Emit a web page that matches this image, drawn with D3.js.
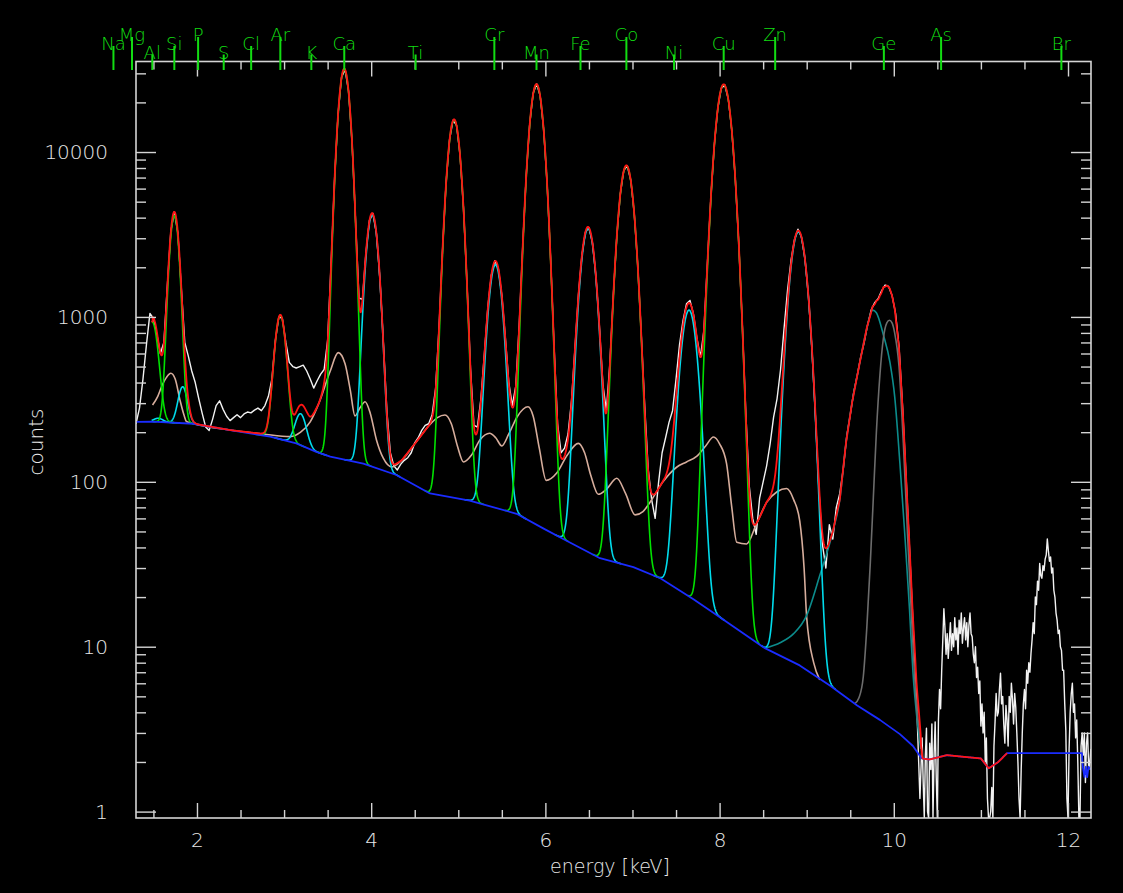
<!DOCTYPE html>
<html>
<head>
<meta charset="utf-8">
<title>XRF spectrum fit</title>
<script src="https://cdn.jsdelivr.net/npm/d3@7"></script>
<style>
  html, body { margin: 0; padding: 0; background: #000; }
  svg { display: block; }
</style>
</head>
<body>
<svg id="chart" width="1123" height="893"></svg>
<script>
// ---------- axis ranges and ticks ----------
const energyExtent = [1.30, 12.264];          // keV
const countExtent = [0.9145, 35400];
const energyTicks = [2, 4, 6, 8, 10, 12];
const countTicks = [1, 10, 100, 1000, 10000];
const fitWindow = [1.48, 11.30];               // keV range of the fit

// ---------- element markers ----------
const elementSymbols = ["Na","Mg","Al","Si","P","S","Cl","Ar","K","Ca","Ti","Cr","Mn","Fe","Co","Ni","Cu","Zn","Ge","As","Br"];
const elementEnergies = [1.041,1.254,1.487,1.740,2.013,2.307,2.622,2.957,3.313,3.691,4.510,5.414,5.898,6.403,6.930,7.477,8.047,8.638,9.886,10.543,11.924];

// ---------- fitted K-alpha lines ----------
const alphaLines = ["Al","Si","Ar","Ca","V","Mn","Co","Cu"];
const alphaEnergy = [1.487,1.740,2.957,3.691,4.952,5.898,6.930,8.047];
const alphaHeight = [700,3890,840,31500,15590,25630,8220,25600];
const alphaSigma  = [0.060,0.050,0.058,0.062,0.068,0.0728,0.0773,0.082];

// ---------- fitted K-beta lines ----------
const betaLines = ["Al","Si","Ar","Ca","V","Mn","Co","Cu"];
const betaEnergy = [1.557,1.836,3.190,4.012,5.427,6.490,7.649,8.905];
const betaHeight = [12,150,92,4030,2000,3390,1080,3270];
const betaSigma  = [0.050,0.050,0.060,0.064,0.071,0.076,0.081,0.0853];

// ---------- continuum background ----------
const backgroundEnergy = [1.30,1.49,1.96,2.38,2.84,3.14,3.37,3.53,3.91,4.29,4.675,5.13,5.67,5.98,6.205,6.627,7.01,7.32,7.70,7.97,8.52,8.92,9.27,9.58,9.84,10.07,10.22,10.32,10.41,10.61,10.80,11.00,11.09,11.20,11.30,12.16,12.17,12.19,12.205,12.22,12.235,12.264];
const backgroundCounts = [231,232,225,206,188,171,152,142,129,110,85,77,64,52,45,34.4,30.4,26,19.4,15.5,9.8,7.7,5.8,4.4,3.6,2.95,2.5,2.1,2.07,2.2,2.15,2.1,1.83,2.0,2.26,2.26,1.87,1.62,1.87,1.62,1.87,1.8];

// ---------- escape / pile-up shelf (including background) ----------
const shelfEnergy = [1.49,1.55,1.60,1.65,1.70,1.75,1.805,1.85,1.88,1.95,2.38,2.76,3.07,3.19,3.30,3.40,3.527,3.622,3.70,3.76,3.814,3.87,3.93,3.99,4.06,4.139,4.235,4.35,4.50,4.65,4.76,4.847,4.92,4.99,5.06,5.15,5.25,5.36,5.43,5.50,5.58,5.68,5.80,5.86,5.93,6.01,6.13,6.25,6.378,6.45,6.52,6.607,6.70,6.82,6.92,7.03,7.12,7.20,7.35,7.51,7.62,7.74,7.84,7.93,8.00,8.08,8.14,8.197,8.31,8.42,8.54,8.66,8.77,8.85,8.92,8.97,9.00,9.08,9.15];
const shelfCounts = [292,330,385,430,455,420,313,255,232,226,206,195,188,200,231,300,465,607,520,360,251,280,306,260,180,139,123,135,170,215,245,254,225,165,132,145,180,197,185,165,195,250,285,250,160,102,113,145,171,150,110,84,90,105,85,63,66,75,100,123,132,143,165,187,170,129,70,43,42,55,75,87,91,78,58,30,15,8,6.3];

// ---------- incoherent (Compton) scatter peak (including background) ----------
const comptonEnergy = [8.52,8.70,8.85,9.00,9.15,9.30,9.38,9.45,9.52,9.61,9.69,9.757,9.80,9.88,9.956,10.01,10.07,10.13,10.18,10.22,10.27,10.31];
const comptonCounts = [9.8,10.6,12,15.5,27,50,78,170,300,530,850,1100,1060,780,530,330,130,45,17,7,3.5,2.4];

// ---------- coherent (Rayleigh) scatter peak (including background) ----------
const rayleighEnergy = [9.55,9.60,9.65,9.69,9.73,9.765,9.80,9.84,9.88,9.92,9.95,9.98,10.01,10.06,10.11,10.16,10.21,10.26,10.30,10.33];
const rayleighCounts = [4.5,4.9,6.6,13,32,80,200,440,740,920,955,920,800,500,170,45,13,4.5,2.9,2.1];

// ---------- measured spectrum, 1.30–10.30 keV in 0.04 keV steps ----------
const measuredStart = 1.30, measuredStep = 0.04;
const measuredCounts = [
  225,280,420,680,1050,980,780,600,700,1550,
  3300,4350,3250,1500,700,580,470,400,320,260,
  215,205,240,290,310,275,250,235,245,255,
  245,258,265,262,272,280,270,290,330,420,
  720,1000,980,700,530,500,490,500,510,470,
  420,370,410,450,480,720,2100,6900,17000,28400,
  31700,23400,11500,3900,1300,1280,2450,3850,4250,3200,
  1700,700,270,150,125,118,128,135,140,150,
  172,185,205,220,225,255,370,880,2600,6500,
  11900,15600,14500,9600,4550,1600,490,220,215,320,
  600,1150,1800,2190,1960,1350,750,400,290,380,
  900,2700,7200,14800,22700,25900,21900,13700,6400,2250,
  660,225,150,160,195,310,650,1370,2380,3280,
  3480,2820,1770,880,390,270,520,1350,3080,5550,
  7720,8260,6740,4240,2060,800,290,120,78,60,
  100,150,185,230,270,420,680,950,1200,1260,
  1040,740,570,830,2100,5300,11100,18500,24400,25500,
  20900,13500,6900,2800,920,270,95,60,48,80,
  100,125,170,247,320,480,850,1450,2200,2950,
  3400,3050,2250,1330,640,250,90,42,30,55,
  45,70,85,120,190,255,350,440,570,700,
  900,1100,1220,1290,1440,1560,1530,1350,1050,660,
  290,110,40,14,5,1.2
];

// ---------- measured spectrum, 10.325–12.2625 keV in 0.0125 keV steps ----------
const tailStart = 10.325, tailStep = 0.0125;
const tailCounts = [
  2.8,1.5,0.6,2.2,3.2,1.0,0.6,2.6,1.8,3.4,
  0.7,2.2,3.5,1.6,0.9,3.6,5.5,4.2,7.2,11,
  17,13,9,12,8.5,11,14,9.5,12,10,
  15,11,13,9,14.5,12,16,10.5,13,15,
  11,14,10,13.5,16,12,11.5,9,8,10,
  6.5,7.5,5.2,6.2,3.3,4.5,3.0,4.0,2.0,2.8,
  1.2,0.7,0.6,1.0,1.4,0.6,2.5,3.5,5.2,3.8,
  4.0,5.5,6.9,4.5,5.0,3.4,2.6,4.4,3.6,2.5,
  5.0,4.0,6.0,4.8,3.4,5.2,4.3,3.0,2.0,1.2,
  0.6,1.8,3.0,4.5,5.5,4.2,7.2,6.0,8.0,7.0,
  9.1,11,14,12,20,18,25,22,32,27,
  26,31,29,34,36,45,38,33,35,28,
  30,22,20,16,14.5,12,12.6,10,9.5,7.2,
  7.2,4.5,3.1,1.2,0.6,2.4,4.0,5.2,6.0,4.0,
  4.5,2.8,3.6,2.0,0.7,0.6,2.5,3.0,2.2,3.0,
  1.5,2.6,3.0,1.8,2.0,2.4
];

// ================= drawing =================
const W = 1123, H = 893;
const frame = { left: 136, right: 1091, top: 61.5, bottom: 818 };
const FONT = '"DejaVu Sans", "Liberation Sans", sans-serif';
const AXIS_COLOR = "#d4d4d4";
const TEXT_COLOR = "#e8e8e8";
const MARK_GREEN = "#12dc12";

const svg = d3.select("#chart");
svg.append("rect").attr("width", W).attr("height", H).attr("fill", "#000");

const x = d3.scaleLinear().domain(energyExtent).range([frame.left, frame.right]);
const y = d3.scaleLog().domain(countExtent).range([frame.bottom, frame.top]);
const yClamped = y.copy().clamp(true);

// log-space piecewise interpolation through knot values
function knotCurve(es, cs) {
  const s = d3.scaleLinear().domain(es).range(cs.map(Math.log10)).clamp(true);
  return e => Math.pow(10, s(e));
}
const backgroundAt = knotCurve(backgroundEnergy, backgroundCounts);
function excessOver(es, cs) {
  const f = knotCurve(es, cs), lo = es[0], hi = es[es.length - 1];
  return e => (e < lo || e > hi) ? 0 : Math.max(0, f(e) - backgroundAt(e));
}
const shelfExcess = excessOver(shelfEnergy, shelfCounts);
const comptonExcess = excessOver(comptonEnergy, comptonCounts);
const rayleighExcess = excessOver(rayleighEnergy, rayleighCounts);

const gauss = (e, e0, a, s) => a * Math.exp(-0.5 * ((e - e0) / s) ** 2);
function linesAt(e) {
  let t = 0;
  alphaEnergy.forEach((e0, i) => { t += gauss(e, e0, alphaHeight[i], alphaSigma[i]); });
  betaEnergy.forEach((e0, i) => { t += gauss(e, e0, betaHeight[i], betaSigma[i]); });
  return t;
}
const totalAt = e => backgroundAt(e) + shelfExcess(e) + comptonExcess(e) + rayleighExcess(e) + linesAt(e);

svg.append("defs").append("clipPath").attr("id", "plotArea")
  .append("rect")
  .attr("x", frame.left).attr("y", frame.top)
  .attr("width", frame.right - frame.left).attr("height", frame.bottom - frame.top);

const plot = svg.append("g").attr("clip-path", "url(#plotArea)");

const straight = d3.line().x(d => x(d[0])).y(d => y(d[1]));
const straightClamped = d3.line().x(d => x(d[0])).y(d => yClamped(d[1]));
const smooth = d3.line().x(d => x(d[0])).y(d => y(d[1])).curve(d3.curveMonotoneX);

function addPath(points, gen, color, width) {
  plot.append("path")
    .attr("d", gen(points))
    .attr("fill", "none")
    .attr("stroke", color)
    .attr("stroke-width", width)
    .attr("stroke-linejoin", "round");
}

// measured spectrum
const measured = measuredCounts.map((c, i) => [measuredStart + i * measuredStep, c])
  .concat(tailCounts.map((c, i) => [tailStart + i * tailStep, c]));
addPath(measured, straightClamped, "#f2f2f2", 1.4);

// shelf, Compton and Rayleigh components
addPath(shelfEnergy.map((e, i) => [e, shelfCounts[i]]), smooth, "#d6ad9c", 1.6);
addPath(comptonEnergy.map((e, i) => [e, comptonCounts[i]]), smooth, "#0c8c8c", 1.6);
addPath(rayleighEnergy.map((e, i) => [e, rayleighCounts[i]]), smooth, "#6c6c6c", 1.6);

// single-line components on top of the continuum
function lineComponent(e0, a, s) {
  const lo = Math.max(e0 - 5 * s, fitWindow[0]);
  const hi = Math.min(e0 + 5 * s, fitWindow[1]);
  return d3.range(lo, hi, 0.003).concat([hi]).map(e => [e, backgroundAt(e) + gauss(e, e0, a, s)]);
}
betaEnergy.forEach((e0, i) => addPath(lineComponent(e0, betaHeight[i], betaSigma[i]), straight, "#00dcec", 1.6));
alphaEnergy.forEach((e0, i) => addPath(lineComponent(e0, alphaHeight[i], alphaSigma[i]), straight, "#00e000", 1.6));

// continuum
addPath(backgroundEnergy.map((e, i) => [e, backgroundCounts[i]]), straight, "#1a2cff", 1.8);

// total fit
const fitGrid = d3.range(fitWindow[0], fitWindow[1], 0.003).concat([fitWindow[1]]);
addPath(fitGrid.map(e => [e, totalAt(e)]), straight, "#ff1414", 1.8);

// ---------- axes ----------
function styleAxis(g) {
  g.select(".domain").remove();
  g.selectAll(".tick line").attr("stroke", AXIS_COLOR).attr("stroke-width", 1.4);
  g.selectAll(".tick text")
    .attr("fill", TEXT_COLOR)
    .attr("font-family", FONT)
    .attr("font-size", 20)
    .attr("font-weight", 200);
}
const minorEnergy = d3.range(1.5, 12.26, 0.5).filter(v => !energyTicks.includes(v));
const minorCounts = [];
countTicks.forEach(d => { for (let m = 2; m <= 9; m++) if (d * m < countExtent[1]) minorCounts.push(d * m); });

svg.append("g").attr("transform", `translate(0,${frame.bottom})`)
  .call(d3.axisBottom(x).tickValues(energyTicks).tickFormat(d3.format("d")).tickSize(-15).tickPadding(15))
  .call(styleAxis);
svg.append("g").attr("transform", `translate(0,${frame.bottom})`)
  .call(d3.axisBottom(x).tickValues(minorEnergy).tickFormat("").tickSize(-8))
  .call(styleAxis);
svg.append("g").attr("transform", `translate(0,${frame.top})`)
  .call(d3.axisTop(x).tickValues(energyTicks).tickFormat("").tickSize(-15))
  .call(styleAxis);
svg.append("g").attr("transform", `translate(0,${frame.top})`)
  .call(d3.axisTop(x).tickValues(minorEnergy).tickFormat("").tickSize(-8))
  .call(styleAxis);

svg.append("g").attr("transform", `translate(${frame.left},0)`)
  .call(d3.axisLeft(y).tickValues(countTicks).tickFormat(d3.format("d")).tickSize(-20).tickPadding(28))
  .call(styleAxis);
svg.append("g").attr("transform", `translate(${frame.left},0)`)
  .call(d3.axisLeft(y).tickValues(minorCounts).tickFormat("").tickSize(-10))
  .call(styleAxis);
svg.append("g").attr("transform", `translate(${frame.right},0)`)
  .call(d3.axisRight(y).tickValues(countTicks).tickFormat("").tickSize(-20))
  .call(styleAxis);
svg.append("g").attr("transform", `translate(${frame.right},0)`)
  .call(d3.axisRight(y).tickValues(minorCounts).tickFormat("").tickSize(-10))
  .call(styleAxis);

svg.append("rect")
  .attr("x", frame.left).attr("y", frame.top)
  .attr("width", frame.right - frame.left).attr("height", frame.bottom - frame.top)
  .attr("fill", "none").attr("stroke", AXIS_COLOR).attr("stroke-width", 1.6);

// axis titles
svg.append("text")
  .attr("x", 610).attr("y", 873)
  .attr("text-anchor", "middle")
  .attr("fill", TEXT_COLOR).attr("font-family", FONT).attr("font-size", 19).attr("font-weight", 200)
  .text("energy [keV]");
svg.append("text")
  .attr("transform", "translate(43,442) rotate(-90)")
  .attr("text-anchor", "middle")
  .attr("fill", TEXT_COLOR).attr("font-family", FONT).attr("font-size", 20).attr("font-weight", 200)
  .text("counts");

// ---------- element markers along the top ----------
const tierBaseline = [41, 50, 58.5];
const labelTier = { Na:1, Mg:0, Al:2, Si:1, P:0, S:2, Cl:1, Ar:0, K:2, Ca:1, Ti:2, Cr:0, Mn:2, Fe:1, Co:0, Ni:2, Cu:1, Zn:0, Ge:1, As:0, Br:1 };
const markers = svg.append("g");
elementSymbols.forEach((sym, i) => {
  const ex = x(elementEnergies[i]);
  const base = tierBaseline[labelTier[sym]];
  markers.append("line")
    .attr("x1", ex).attr("x2", ex)
    .attr("y1", base - 4).attr("y2", 70)
    .attr("stroke", MARK_GREEN).attr("stroke-width", 2);
  markers.append("text")
    .attr("x", ex).attr("y", base)
    .attr("text-anchor", "middle")
    .attr("fill", MARK_GREEN).attr("font-family", FONT).attr("font-size", 18).attr("font-weight", 200)
    .text(sym);
});
</script>
</body>
</html>
